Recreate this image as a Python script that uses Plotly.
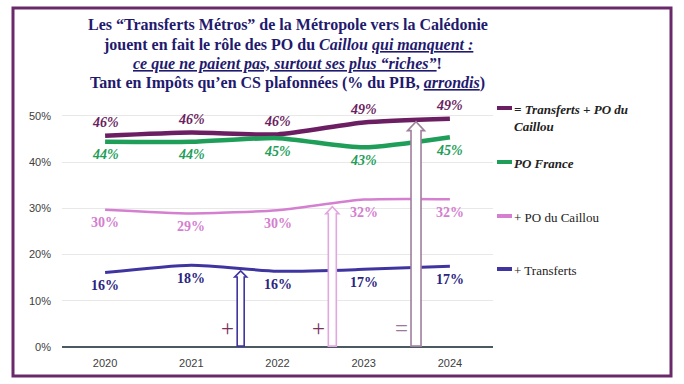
import plotly.graph_objects as go

# ---------------- data ----------------
years = [2020, 2021, 2022, 2023, 2024]
total = [45.7, 46.4, 46.0, 48.6, 49.4]          # = Transferts + PO du Caillou
france = [44.4, 44.4, 45.2, 43.2, 45.4]         # PO France
caillou = [29.7, 28.9, 29.6, 31.9, 32.0]        # + PO du Caillou
transferts = [16.1, 17.7, 16.4, 16.8, 17.5]     # + Transferts

total_labels = ["46%", "46%", "46%", "49%", "49%"]
france_labels = ["44%", "44%", "45%", "43%", "45%"]
caillou_labels = ["30%", "29%", "30%", "32%", "32%"]
transferts_labels = ["16%", "18%", "16%", "17%", "17%"]

legend_names = ["<b><i>= Transferts + PO du<br>Caillou</i></b>", "<b><i>PO France</i></b>",
                "+ PO du Caillou", "+ Transferts"]
y_ticks = [0, 10, 20, 30, 40, 50]
y_tick_labels = ["0%", "10%", "20%", "30%", "40%", "50%"]

title_lines = [
    "<b>Les “Transferts Métros” de la Métropole vers la Calédonie</b>",
    "<b>jouent en fait le rôle des PO du <i>Caillou</i> <u><i>qui manquent :</i></u></b>",
    "<b><u><i>ce que ne paient pas, surtout ses plus “riches”</i></u>!</b>",
    "<b>Tant en Impôts qu’en CS plafonnées (% du PIB, <u><i>arrondis</i></u>)</b>",
]

# ---------------- styling ----------------
W, H = 684, 384
L, R, T, B = 62, 493, 97, 347   # plot area in pixels
SERIF = "Liberation Serif, DejaVu Serif, serif"
SANS = "Liberation Sans, Arial, sans-serif"

C_TOTAL = "#6B1F62"
C_FRANCE = "#1E9E58"
C_CAILLOU = "#D47FD0"
C_TRANSF = "#3F35A0"
C_TITLE = "#1F1A6E"

def px2paper_x(px):
    return (px - L) / (R - L)

def px2paper_y(py):
    return (B - py) / (B - T)

series = [
    (total, total_labels, C_TOTAL, 4.5, 14, True, True),
    (france, france_labels, C_FRANCE, 4.5, 14, False, True),
    (caillou, caillou_labels, C_CAILLOU, 2.5, 14, False, False),
    (transferts, transferts_labels, C_TRANSF, 3, 14, False, False),
]

fig = go.Figure()
annotations = []
shapes = []

label_colors = [C_TOTAL, C_FRANCE, C_CAILLOU, "#2A2580"]
for (vals, labs, col, lw, fs, above, italic), lcol in zip(series, label_colors):
    fig.add_trace(go.Scatter(x=years, y=vals, mode="lines",
                             line=dict(color=col, width=lw, shape="spline", smoothing=0.6),
                             showlegend=False, hoverinfo="skip"))
    for x, y, t in zip(years, vals, labs):
        txt = f"<b><i>{t}</i></b>" if italic else f"<b>{t}</b>"
        annotations.append(dict(x=x, y=y, xref="x", yref="y", text=txt, showarrow=False,
                                yshift=13 if above else -13,
                                font=dict(family=SERIF, size=fs, color=lcol)))

# ---------------- hollow arrows ----------------
arrow_x = [2021.573, 2022.636, 2023.607]
arrow_top = [16.45, 30.37, 48.77]
arrow_shaft = [7, 8, 10]     # px
arrow_head = [12, 13, 17]    # px
arrow_head_h = [6, 7, 9]     # px
arrow_col = [C_TRANSF, "#E2A6E0", "#A07E9E"]
xpx = 5 / (R - L)            # years per pixel
ypx = 54.1 / (B - T)         # % per pixel
for ax, at, sw, hw, hh, col in zip(arrow_x, arrow_top, arrow_shaft, arrow_head, arrow_head_h, arrow_col):
    s = sw / 2 * xpx
    h = hw / 2 * xpx
    neck = at - hh * ypx
    path = (f"M {ax - s} 0.2 L {ax - s} {neck} L {ax - h} {neck} L {ax} {at} "
            f"L {ax + h} {neck} L {ax + s} {neck} L {ax + s} 0.2 Z")
    shapes.append(dict(type="path", path=path, xref="x", yref="y", layer="above",
                       line=dict(color=col, width=1.6), fillcolor="white"))

ops = [("+", 2021.422, "#7A3060"), ("+", 2022.481, "#7A3060"), ("=", 2023.441, "#9A7A9A")]
for t, x, c in ops:
    annotations.append(dict(x=x, y=4.0, xref="x", yref="y", text=t, showarrow=False,
                            font=dict(family=SERIF, size=23, color=c)))

# ---------------- title ----------------
title_y = [25, 45, 64, 83]
for line, py in zip(title_lines, title_y):
    annotations.append(dict(x=px2paper_x(287.5), y=px2paper_y(py), xref="paper", yref="paper",
                            text=line, showarrow=False, xanchor="center", yanchor="middle",
                            font=dict(family=SERIF, size=16, color=C_TITLE)))

# ---------------- manual legend ----------------
legend_y = [108, 162, 216, 269]
legend_cols = [C_TOTAL, C_FRANCE, C_CAILLOU, C_TRANSF]
for name, py, col in zip(legend_names, legend_y, legend_cols):
    shapes.append(dict(type="line", xref="paper", yref="paper",
                       x0=px2paper_x(497), x1=px2paper_x(512),
                       y0=px2paper_y(py), y1=px2paper_y(py),
                       line=dict(color=col, width=4)))
    annotations.append(dict(x=px2paper_x(512), y=px2paper_y(py - 8), xref="paper", yref="paper",
                            text=name, showarrow=False, xanchor="left", yanchor="top",
                            align="left",
                            font=dict(family=SERIF, size=13, color="#222222")))

# ---------------- frame ----------------
shapes.append(dict(type="rect", xref="paper", yref="paper",
                   x0=px2paper_x(13), x1=px2paper_x(671),
                   y0=px2paper_y(376), y1=px2paper_y(8),
                   line=dict(color="#6A2A6A", width=3), fillcolor="rgba(0,0,0,0)", layer="above"))

fig.update_layout(
    width=W, height=H,
    margin=dict(l=L, r=W - R, t=T, b=H - B, pad=0),
    paper_bgcolor="white", plot_bgcolor="white",
    annotations=annotations, shapes=shapes,
    showlegend=False,
    xaxis=dict(range=[2019.5, 2024.5], tickvals=years, ticktext=[str(y) for y in years],
               showgrid=False, showline=False, zeroline=False, ticks="",
               tickfont=dict(family=SANS, size=11, color="#404040"), ticklabelstandoff=8),
    yaxis=dict(range=[0, 54.1], tickvals=y_ticks, ticktext=y_tick_labels,
               showgrid=True, gridcolor="#E8E8E8", gridwidth=1,
               zeroline=True, zerolinecolor="#4A5A60", zerolinewidth=2,
               showline=False, ticks="",
               tickfont=dict(family=SANS, size=11, color="#404040"), ticklabelstandoff=10),
)

fig.write_html("out.html", config={"displayModeBar": False},
               post_script="document.body.style.margin='0';document.body.style.padding='0';")
